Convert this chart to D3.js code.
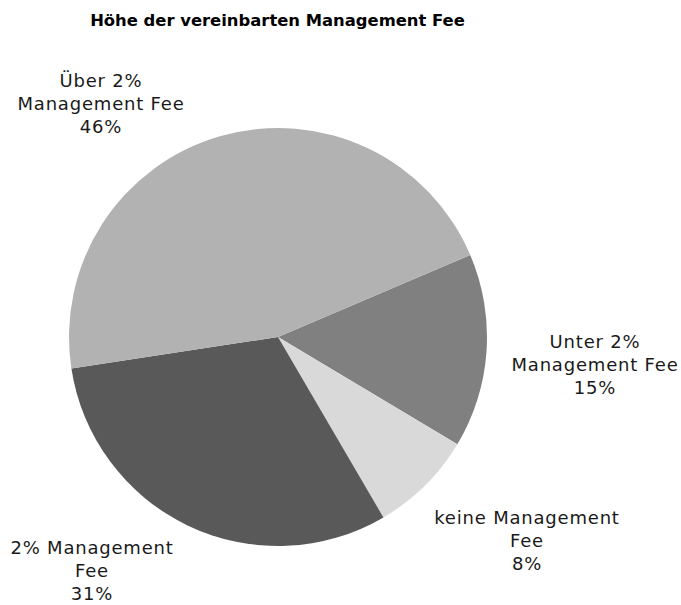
<!DOCTYPE html>
<html><head><meta charset="utf-8">
<script src="https://cdn.jsdelivr.net/npm/d3@7/dist/d3.min.js"></script>
<style>body{margin:0;background:#fff}</style>
</head><body>
<svg id="chart" width="681" height="605"></svg>
<script>
const categories = ["Unter 2% Management Fee", "keine Management Fee", "2% Management Fee", "Über 2% Management Fee"];
const labelLines = [["Unter 2%", "Management Fee"], ["keine Management", "Fee"], ["2% Management", "Fee"], ["Über 2%", "Management Fee"]];
const values = [15, 8, 31, 46];
const colors = ["#808080", "#d9d9d9", "#595959", "#b2b2b2"];
const title = "Höhe der vereinbarten Management Fee";

const W = 681, H = 605, cx = 278, cy = 337, R = 209;
const startDeg = 66.9;
// label offsets (relative to pie centre) in layout space
const labelPos = [[317, 28], [249, 204], [-186, 234], [-177, -233]];

const svg = d3.select("#chart");
svg.append("text").attr("x", 277.5).attr("y", 26).attr("text-anchor", "middle")
  .attr("font-family", "DejaVu Sans").attr("font-weight", "bold").attr("font-size", 16.4)
  .attr("fill", "#000").text(title);

const pie = d3.pie().sort(null).value(d => d)
  .startAngle(startDeg * Math.PI / 180).endAngle(startDeg * Math.PI / 180 + 2 * Math.PI);
const arcs = pie(values);
const arc = d3.arc().innerRadius(0).outerRadius(R);
const g = svg.append("g").attr("transform", `translate(${cx},${cy})`);
g.selectAll("path").data(arcs).join("path").attr("d", arc)
  .attr("fill", (d, i) => colors[i]);

const fmt = d3.format(".0%");
const total = d3.sum(values);
const lg = g.selectAll("g.lbl").data(arcs).join("g").attr("class", "lbl")
  .attr("transform", (d, i) => `translate(${labelPos[i][0]},${labelPos[i][1]})`);
lg.each(function(d, i) {
  const lines = labelLines[i].concat([fmt(d.value / total)]);
  const t = d3.select(this).append("text").attr("text-anchor", "middle")
    .attr("font-family", "DejaVu Sans").attr("font-size", 18).attr("letter-spacing", 0.8)
    .attr("fill", "#1a1a1a");
  lines.forEach((s, j) => t.append("tspan").attr("x", 0).attr("y", (j - 1) * 23 + 6).text(s));
});
</script></body></html>
